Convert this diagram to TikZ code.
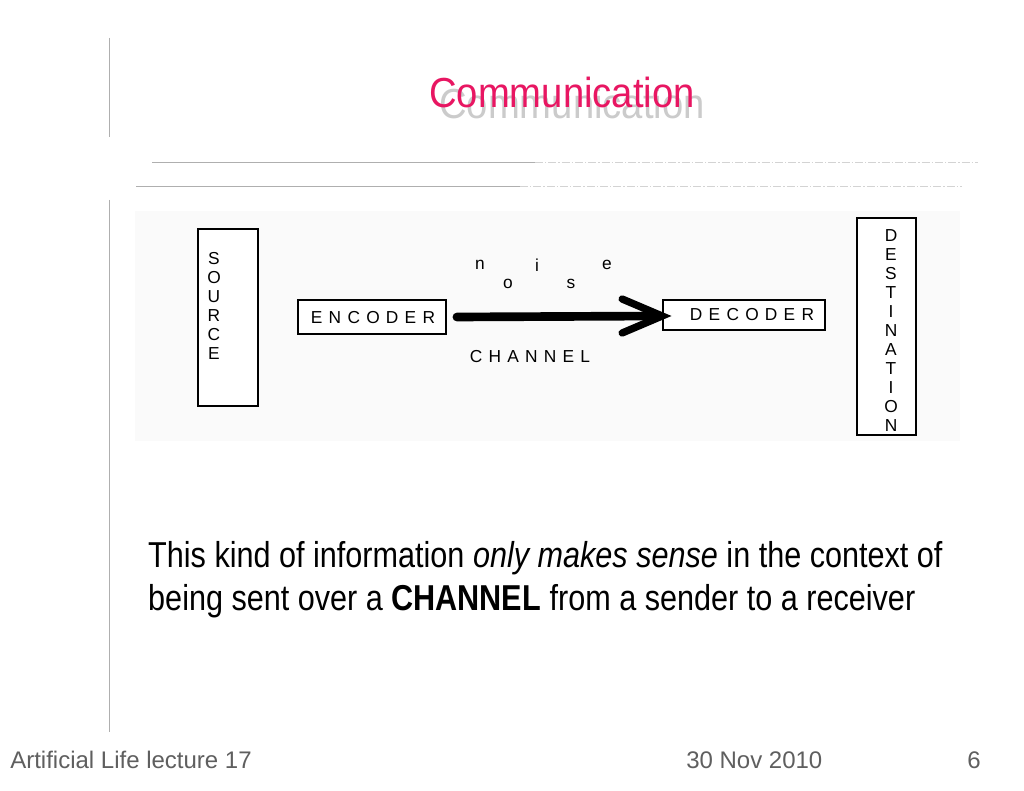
\documentclass[tikz,border=0pt]{standalone}
\usepackage{fontspec}
\setmainfont{Liberation Sans}
\usetikzlibrary{calc}
\definecolor{titlec}{RGB}{232,22,98}
\definecolor{rulec}{RGB}{175,175,175}
\definecolor{footc}{RGB}{95,95,95}
\newcommand\ls{\hspace{0.36em}}
\tikzset{
  diag/.style={font=\fontsize{13}{14.3}\selectfont, inner sep=0pt, text=black},
  boxe/.style={draw=black, line width=1.3pt, fill=white, inner sep=0pt},
  rule/.style={draw=rulec, line width=0.6pt},
  dotrule/.style={draw=rulec!55, line width=0.6pt, dash pattern=on 6pt off 1.5pt on 1pt off 1.5pt},
  foot/.style={font=\fontsize{18}{20}\selectfont, text=footc, inner sep=0pt, anchor=base west},
  body/.style={font=\fontsize{27}{30}\selectfont, inner sep=0pt, anchor=base west, xscale=0.85},
  ttl/.style={font=\fontsize{31.5}{36}\selectfont, anchor=base, inner sep=0pt, xscale=0.91}
}
\begin{document}
\begin{tikzpicture}[x=0.75pt,y=-0.75pt]
\useasboundingbox (0,0) rectangle (1024,791);
\fill[white] (0,0) rectangle (1024,791);
% left vertical rules
\coordinate (v1a) at (109,38); \coordinate (v1b) at (109,137);
\coordinate (v2a) at (109,200); \coordinate (v2b) at (109,732);
\draw[rule] (v1a) -- (v1b);
\draw[rule] (v2a) -- (v2b);
% title with shadow
\node[ttl, text=black!45, opacity=0.45] (tshadow) at (572,119) {Communication};
\node[ttl, text=titlec] (title) at (562,108) {Communication};
% separator rules
\coordinate (r1a) at (152,162); \coordinate (r1b) at (535,162); \coordinate (r1c) at (978,162);
\coordinate (r2a) at (136,186); \coordinate (r2b) at (520,186); \coordinate (r2c) at (962,186);
\draw[rule] (r1a) -- (r1b); \draw[dotrule] (r1b) -- (r1c);
\draw[rule] (r2a) -- (r2b); \draw[dotrule] (r2b) -- (r2c);
% diagram background
\fill[black!2] (135,211) rectangle (960,441);
% source
\node[boxe, minimum width=45pt, minimum height=132.75pt] (src) at (228,317.5) {};
\node[diag, align=center] (srct) at (214,306) {S\\O\\U\\R\\C\\E};
% destination
\node[boxe, minimum width=44.25pt, minimum height=162.75pt] (dst) at (886.5,326.5) {};
\node[diag, align=center] (dstt) at (891,330.5) {D\\E\\S\\T\\I\\N\\A\\T\\I\\O\\N};
% encoder / decoder
\node[boxe, minimum width=111pt, minimum height=25.5pt] (enc) at (372,317) {};
\node[diag] (enct) at (373,318) {E\ls N\ls C\ls O\ls D\ls E\ls R};
\node[boxe, minimum width=121.5pt, minimum height=22.5pt] (dec) at (744,315) {};
\node[diag] (dect) at (752,315) {D\ls E\ls C\ls O\ls D\ls E\ls R};
% channel arrow
\coordinate (as) at ($(enc.east)+(10,0)$);
\coordinate (ae) at ($(dec.west)+(0,1)$);
\draw[line width=6.5pt, line cap=round] (as) -- ($(ae)+(-4,0)$);
\draw[line width=5.5pt, line cap=round, line join=miter] ($(ae)+(-40,-17)$) -- (ae) -- ($(ae)+(-40,17)$);
% noise and channel labels
\node[diag] (n1) at (480,265) {n};
\node[diag] (n2) at (508,284) {o};
\node[diag] (n3) at (537,265) {i};
\node[diag] (n4) at (571,284) {s};
\node[diag] (n5) at (607,265) {e};
\node[diag] (chan) at (530,357) {C\ls H\ls A\ls N\ls N\ls E\ls L};
% body text
\node[body] (b1) at (148,567) {This kind of information \textit{only makes sense} in the context of};
\node[body] (b2) at (148,610) {being sent over a \textbf{CHANNEL} from a sender to a receiver};
% footer
\node[foot] (f1) at (10,768) {Artificial Life lecture 17};
\node[foot] (f2) at (686,768) {30 Nov 2010};
\node[foot] (f3) at (967,768) {6};
\end{tikzpicture}
\end{document}
